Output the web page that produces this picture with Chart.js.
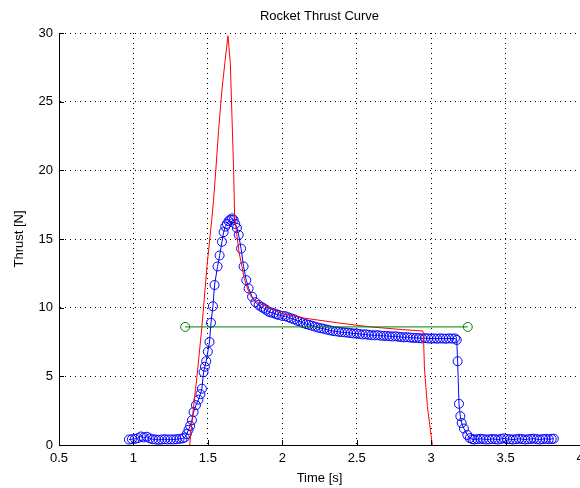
<!DOCTYPE html>
<html>
<head>
<title>Rocket Thrust Curve</title>
<script src="https://cdn.jsdelivr.net/npm/chart.js"></script>
<style>
  body { margin: 0; background: #fff; }
  #wrap { width: 580px; height: 488px; }
</style>
</head>
<body>
<div id="wrap"><canvas id="thrustChart" width="580" height="488"></canvas></div>
<script>
// model curve (red)
const modelTime   = [1.378, 1.404, 1.427, 1.460, 1.494, 1.528, 1.538, 1.550, 1.572, 1.595, 1.615, 1.635, 1.651, 1.662, 1.673, 1.680, 1.695, 1.710, 1.729, 1.745, 1.763, 1.785, 1.805, 1.85, 1.898, 1.95, 1.987, 2.14, 2.37, 2.59, 2.81, 2.945, 2.950, 2.955, 2.965, 2.975, 2.99, 3.008];
const modelThrust = [0, 2.8, 5.0, 8.6, 13.0, 16.6, 17.8, 19.5, 22.9, 25.9, 27.9, 29.8, 27.8, 23.9, 20.0, 16.6, 15.3, 14.0, 13.0, 12.1, 11.5, 10.9, 10.6, 10.3, 10.1, 9.8, 9.6, 9.25, 8.9, 8.6, 8.4, 8.3, 7.4, 5.6, 4.2, 2.8, 1.5, 0];

// measured thrust (blue, circles)
const testTime = [
  0.97, 0.99, 1.01, 1.03, 1.05, 1.07, 1.09, 1.11, 1.13, 1.15, 1.17, 1.19, 1.21, 1.23, 1.25, 1.27, 1.29, 1.31, 1.33, 1.345,
  1.358, 1.370, 1.381, 1.393, 1.404, 1.420, 1.437, 1.450, 1.460, 1.471, 1.480, 1.489, 1.500, 1.511, 1.521, 1.534, 1.545, 1.565, 1.579, 1.595,
  1.606, 1.617, 1.628, 1.639, 1.650, 1.662, 1.673, 1.684, 1.695, 1.707, 1.723, 1.740, 1.758, 1.774, 1.797, 1.819, 1.841, 1.86, 1.875, 1.89,
  1.909, 1.925, 1.942, 1.96, 1.976,
  2.00, 2.02, 2.04, 2.06, 2.08, 2.10, 2.12, 2.14, 2.16, 2.18, 2.20, 2.22, 2.24, 2.26, 2.28, 2.30, 2.32, 2.34, 2.36, 2.38,
  2.40, 2.42, 2.44, 2.46, 2.48, 2.50, 2.52, 2.54, 2.56, 2.58, 2.60, 2.62, 2.64, 2.66, 2.68, 2.70, 2.72, 2.74, 2.76, 2.78,
  2.80, 2.82, 2.84, 2.86, 2.88, 2.90, 2.92, 2.94, 2.96, 2.98, 3.00, 3.02, 3.04, 3.06, 3.08, 3.10, 3.12, 3.14, 3.16, 3.172,
  3.178, 3.187, 3.196, 3.205, 3.22, 3.243, 3.26, 3.277,
  3.29, 3.31, 3.33, 3.35, 3.37, 3.39, 3.41, 3.43, 3.45, 3.47, 3.49, 3.51, 3.53, 3.55, 3.57, 3.59, 3.61, 3.63, 3.65, 3.67,
  3.69, 3.71, 3.73, 3.75, 3.77, 3.79, 3.81, 3.824
];
const testThrust = [
  0.40, 0.42, 0.45, 0.50, 0.62, 0.55, 0.60, 0.48, 0.42, 0.40, 0.38, 0.40, 0.42, 0.40, 0.41, 0.40, 0.42, 0.45, 0.48, 0.55,
  0.80, 1.10, 1.40, 1.80, 2.40, 2.90, 3.30, 3.70, 4.10, 5.30, 5.70, 6.10, 6.80, 7.50, 8.90, 10.1, 11.65, 13.0, 13.8, 14.8,
  15.5, 15.9, 16.1, 16.3, 16.4, 16.5, 16.4, 16.1, 15.8, 15.3, 14.3, 13.0, 12.0, 11.4, 10.8, 10.4, 10.2, 10.05, 9.96, 9.85,
  9.70, 9.65, 9.60, 9.52, 9.47,
  9.40, 9.38, 9.30, 9.22, 9.15, 9.05, 8.98, 8.88, 8.80, 8.75, 8.68, 8.62, 8.55, 8.50, 8.46, 8.40, 8.35, 8.30, 8.28, 8.24,
  8.22, 8.20, 8.18, 8.15, 8.12, 8.12, 8.08, 8.05, 8.06, 8.02, 8.00, 7.98, 8.00, 7.96, 7.95, 7.94, 7.92, 7.90, 7.92, 7.88,
  7.86, 7.84, 7.85, 7.82, 7.80, 7.80, 7.78, 7.76, 7.78, 7.76, 7.75, 7.76, 7.74, 7.76, 7.75, 7.74, 7.76, 7.75, 7.76, 7.65,
  6.1, 3.0, 2.1, 1.6, 1.2, 0.73, 0.50, 0.42,
  0.40, 0.42, 0.45, 0.43, 0.40, 0.41, 0.44, 0.42, 0.40, 0.45, 0.48, 0.44, 0.42, 0.40, 0.42, 0.45, 0.43, 0.40, 0.42, 0.44,
  0.46, 0.42, 0.40, 0.43, 0.45, 0.42, 0.44, 0.46
];

// average thrust (green)
const avgTime   = [1.348, 3.246];
const avgThrust = [8.6, 8.6];

const xTicks = [0.5, 1, 1.5, 2, 2.5, 3, 3.5, 4];
const yTicks = [0, 5, 10, 15, 20, 25, 30];

function pairs(xs, ys) {
  return xs.map((x, i) => ({ x: x, y: ys[i] }));
}

const FONT = '13px "Liberation Sans", Arial, sans-serif';

// tick labels, inner tick marks and axis titles
const labelPlugin = {
  id: 'labels',
  afterDraw(chart) {
    const ctx = chart.ctx;
    const xs = chart.scales.x, ys = chart.scales.y;
    const area = chart.chartArea;
    ctx.save();
    ctx.strokeStyle = '#000';
    ctx.lineWidth = 1;
    ctx.beginPath();
    xTicks.forEach(v => {
      const px = Math.round(xs.getPixelForValue(v)) + 0.5;
      ctx.moveTo(px, area.bottom);
      ctx.lineTo(px, area.bottom - 5);
    });
    yTicks.forEach(v => {
      const py = Math.round(ys.getPixelForValue(v)) + 0.5;
      ctx.moveTo(area.left, py);
      ctx.lineTo(area.left + 5, py);
    });
    ctx.stroke();

    ctx.fillStyle = '#000';
    ctx.font = FONT;
    ctx.textAlign = 'center';
    ctx.textBaseline = 'middle';
    xTicks.forEach(v => {
      ctx.fillText(String(v), xs.getPixelForValue(v), area.bottom + 13);
    });
    ctx.textAlign = 'right';
    yTicks.forEach(v => {
      ctx.fillText(String(v), area.left - 6, ys.getPixelForValue(v));
    });

    const cx = (area.left + area.right) / 2;
    ctx.textAlign = 'center';
    ctx.fillText('Rocket Thrust Curve', cx, 16);
    ctx.fillText('Time [s]', cx, 478);
    ctx.translate(19, (area.top + area.bottom) / 2);
    ctx.rotate(-Math.PI / 2);
    ctx.fillText('Thrust [N]', 0, 0);
    ctx.restore();
  }
};

new Chart(document.getElementById('thrustChart'), {
  type: 'scatter',
  data: {
    datasets: [
      {
        data: pairs(avgTime, avgThrust),
        showLine: true,
        borderColor: '#008000',
        borderWidth: 1,
        pointRadius: 4.5,
        pointBorderColor: '#008000',
        pointBackgroundColor: 'rgba(0,0,0,0)',
        pointBorderWidth: 1
      },
      {
        data: pairs(modelTime, modelThrust),
        showLine: true,
        borderColor: '#ff0000',
        borderWidth: 1,
        pointRadius: 0
      },
      {
        data: pairs(testTime, testThrust),
        showLine: true,
        borderColor: '#0000ff',
        borderWidth: 1,
        pointRadius: 4.5,
        pointBorderColor: '#0000ff',
        pointBackgroundColor: 'rgba(0,0,0,0)',
        pointBorderWidth: 1
      }
    ]
  },
  options: {
    responsive: false,
    animation: false,
    layout: { autoPadding: false, padding: { left: 59, right: 0, top: 33, bottom: 43 } },
    plugins: { legend: { display: false }, tooltip: { enabled: false } },
    scales: {
      x: {
        type: 'linear', min: 0.5, max: 4,
        ticks: { display: false, stepSize: 0.5 },
        grid: { color: '#000', drawTicks: false, lineWidth: 1 },
        border: { display: true, color: '#000', width: 1, dash: [1, 4] }
      },
      y: {
        type: 'linear', min: 0, max: 30,
        ticks: { display: false, stepSize: 5 },
        grid: { color: '#000', drawTicks: false, lineWidth: 1 },
        border: { display: true, color: '#000', width: 1, dash: [1, 4] }
      }
    }
  },
  plugins: [labelPlugin]
});
</script>
</body>
</html>
